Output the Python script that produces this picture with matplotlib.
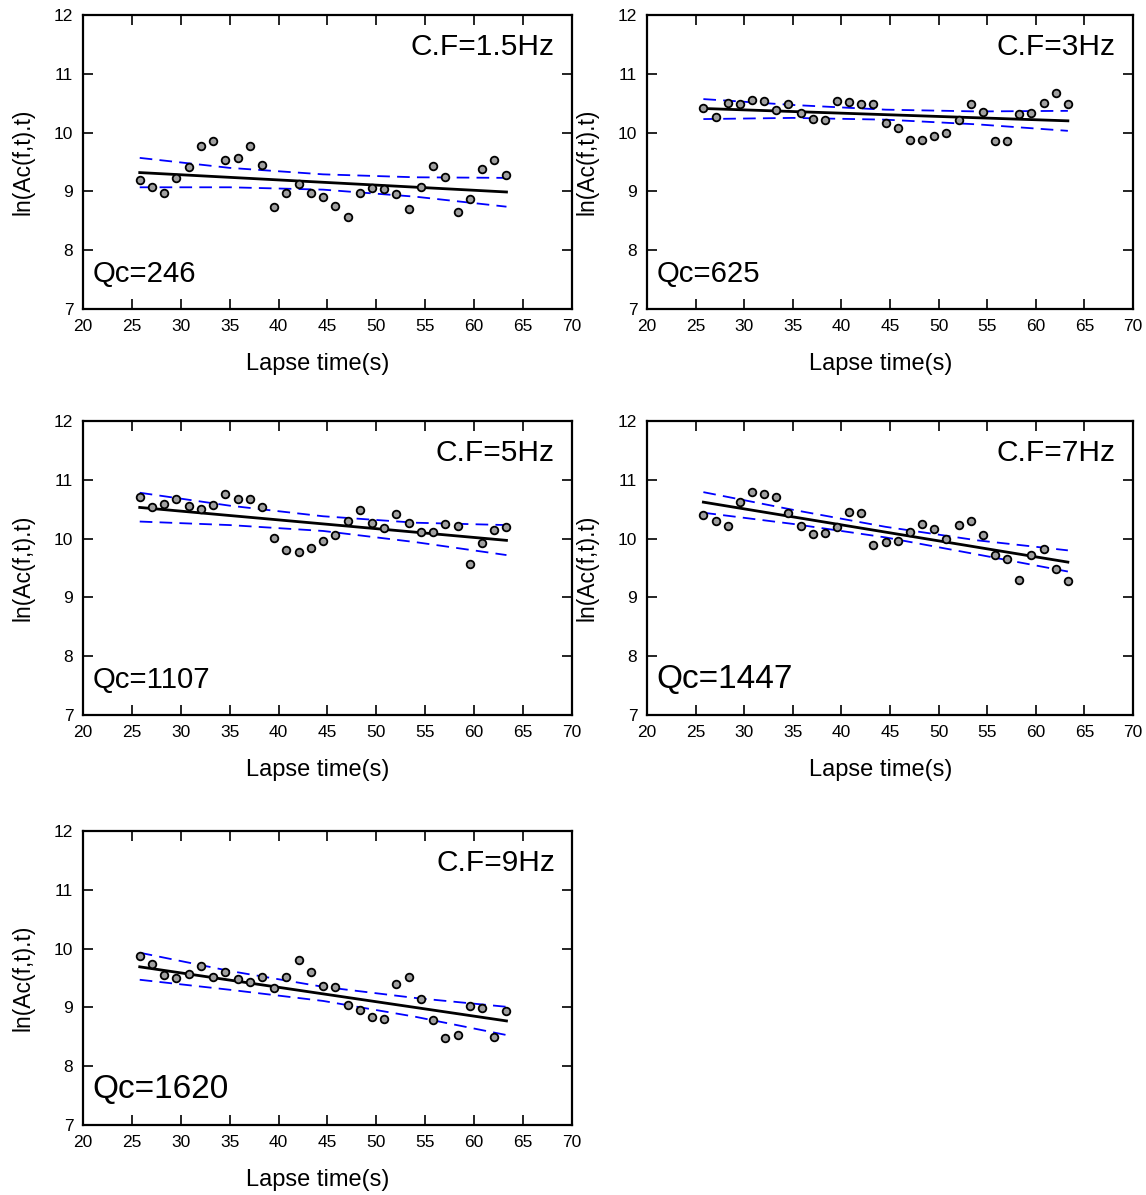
import numpy as np
import matplotlib
matplotlib.use("Agg")
import matplotlib.pyplot as plt

plt.rcParams['font.family'] = ['Liberation Sans', 'DejaVu Sans']

# lapse time of each window (s)
lapse = np.linspace(25.8, 63.3, 31)
band_x = [25.8, 35.0, 44.55, 54.0, 63.3]

freq_labels = ["C.F=1.5Hz", "C.F=3Hz", "C.F=5Hz", "C.F=7Hz", "C.F=9Hz"]
qc_labels = ["Qc=246", "Qc=625", "Qc=1107", "Qc=1447", "Qc=1620"]
qc_sizes = [21.2, 21.2, 21.2, 24, 24]

amp_15 = [9.19, 9.07, 8.98, 9.22, 9.42, 9.78, 9.85, 9.53, 9.57, 9.77, 9.45,
          8.73, 8.98, 9.13, 8.97, 8.90, 8.75, 8.56, 8.97, 9.05, 9.04, 8.95,
          8.70, 9.07, 9.43, 9.25, 8.65, 8.87, 9.38, 9.54, 9.28]
amp_3 = [10.42, 10.27, 10.51, 10.48, 10.55, 10.53, 10.39, 10.49, 10.34, 10.23,
         10.22, 10.54, 10.52, 10.48, 10.48, 10.16, 10.08, 9.88, 9.88, 9.94,
         9.99, 10.21, 10.49, 10.35, 9.85, 9.85, 10.31, 10.34, 10.50, 10.67, 10.49]
amp_5 = [10.70, 10.53, 10.58, 10.67, 10.55, 10.51, 10.57, 10.76, 10.68, 10.67,
         10.53, 10.01, 9.80, 9.78, 9.84, 9.96, 10.06, 10.30, 10.48, 10.26,
         10.18, 10.41, 10.27, 10.11, 10.11, 10.25, 10.21, 9.57, 9.92, 10.14, 10.19]
amp_7 = [10.40, 10.30, 10.22, 10.63, 10.80, 10.76, 10.71, 10.44, 10.21, 10.07,
         10.10, 10.20, 10.46, 10.44, 9.89, 9.94, 9.96, 10.12, 10.24, 10.16,
         9.99, 10.23, 10.30, 10.06, 9.72, 9.66, 9.29, 9.72, 9.82, 9.48, 9.28]
amp_9 = [9.88, 9.73, 9.55, 9.50, 9.56, 9.70, 9.51, 9.61, 9.49, 9.44, 9.51,
         9.33, 9.52, 9.80, 9.61, 9.36, 9.34, 9.04, 8.95, 8.83, 8.80, 9.39,
         9.51, 9.15, 8.79, 8.48, 8.53, 9.02, 8.99, 8.50, 8.94]

# regression line end values (at first and last lapse time)
fit_ends = [(9.32, 8.99), (10.41, 10.20), (10.53, 9.97), (10.62, 9.60), (9.69, 8.77)]

# confidence band values at band_x
upper = [[9.57, 9.40, 9.29, 9.24, 9.23],
         [10.57, 10.47, 10.39, 10.36, 10.37],
         [10.78, 10.56, 10.38, 10.27, 10.23],
         [10.79, 10.49, 10.20, 9.97, 9.80],
         [9.93, 9.62, 9.35, 9.16, 9.01]]
lower = [[9.07, 9.07, 9.03, 8.91, 8.74],
         [10.23, 10.25, 10.22, 10.14, 10.03],
         [10.29, 10.23, 10.13, 9.94, 9.72],
         [10.44, 10.25, 10.02, 9.73, 9.44],
         [9.47, 9.30, 9.11, 8.84, 8.53]]

amps = [amp_15, amp_3, amp_5, amp_7, amp_9]

W, H = 1146, 1195
fig = plt.figure(figsize=(W / 100, H / 100), dpi=100)

# axes boxes in pixels: left, top, right, bottom
boxes = [(83, 15, 572, 309), (647, 15, 1133, 309),
         (83, 421, 572, 715), (647, 421, 1133, 715),
         (83, 831, 572, 1125)]

for i, (l, t, r, b) in enumerate(boxes):
    ax = fig.add_axes([l / W, 1 - b / H, (r - l) / W, (b - t) / H])
    ax.plot(lapse, amps[i], 'o', ms=5.5, mfc='#a0a0a0', mec='black', mew=1.3, zorder=3)
    ax.plot([lapse[0], lapse[-1]], fit_ends[i], color='black', lw=2.0, zorder=2)
    ax.plot(band_x, upper[i], color='blue', lw=1.3, dashes=(7, 4), zorder=2)
    ax.plot(band_x, lower[i], color='blue', lw=1.3, dashes=(7, 4), zorder=2)

    ax.set_xlim(20, 70)
    ax.set_ylim(7, 12)
    ax.set_xticks(range(20, 71, 5))
    ax.set_yticks(range(7, 13))
    ax.tick_params(direction='in', length=7, width=1.2, labelsize=12.5,
                   top=True, right=True, pad=7)
    for s in ax.spines.values():
        s.set_linewidth(1.6)

    ax.text(0.965, 0.89, freq_labels[i], transform=ax.transAxes, ha='right',
            va='center', fontsize=21.5)
    ax.text(0.02, 0.12, qc_labels[i], transform=ax.transAxes, ha='left',
            va='center', fontsize=qc_sizes[i])

    ax.set_xlabel("Lapse time(s)", fontsize=17, labelpad=14, x=0.48)
    ax.set_ylabel("ln(Ac(f,t).t)", fontsize=16.5, labelpad=14)

fig.savefig("out.png", dpi=100)
